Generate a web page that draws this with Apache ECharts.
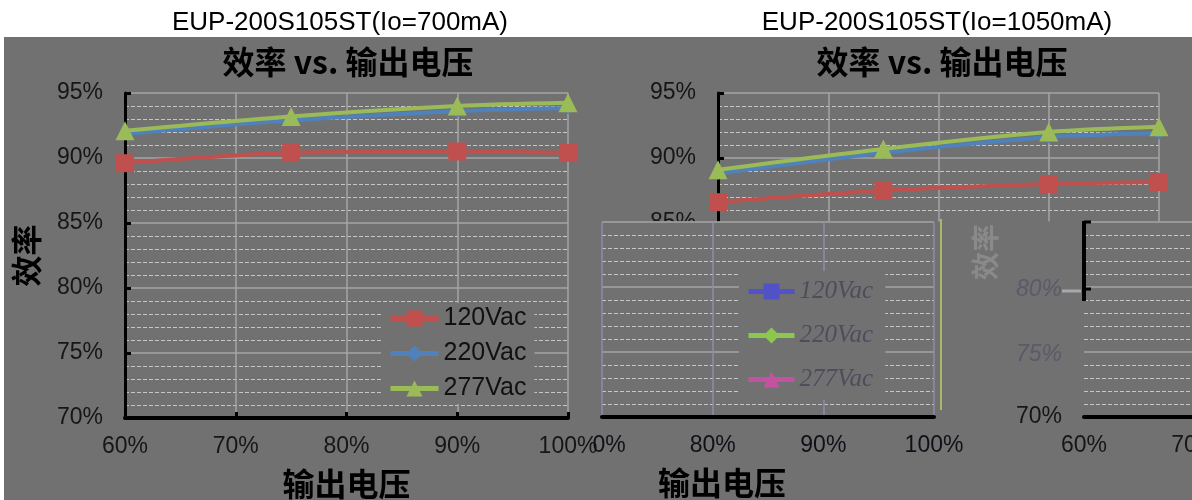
<!DOCTYPE html>
<html><head><meta charset="utf-8">
<script src="https://cdn.jsdelivr.net/npm/echarts@6/dist/echarts.min.js"></script>
<style>html,body{margin:0;padding:0;background:#fff}#c{width:1192px;height:500px}</style>
</head><body><div id="c"></div>
<script>
// ---- data ----
const xPoints = [60, 75, 90, 100];           // output voltage (%)
const seriesNames = ['120Vac', '220Vac', '277Vac'];
const left120 = [89.6, 90.4, 90.5, 90.4];    // Io=700mA
const left220 = [91.85, 92.9, 93.6, 93.85];
const left277 = [92.1, 93.2, 94.0, 94.25];
const right120 = [86.6, 87.5, 88.0, 88.15];  // Io=1050mA
const right220 = [88.8, 90.4, 91.6, 91.9];
const right277 = [89.1, 90.7, 92.0, 92.4];
const fragNames = ['120Vac ', '220Vac ', '277Vac ']; // overlapped fragment legend
const titles = ['EUP-200S105ST(Io=700mA)', 'EUP-200S105ST(Io=1050mA)'];
const subTitle = '效率 vs. 输出电压';
const xName = '输出电压';
const yName = '效率';

// ---- styles ----
const BG = '#717171';
const FS = 23;
const LAB = { color: '#161616', fontSize: FS, fontFamily: 'Liberation Sans, Arial' };
const CJK = 'Noto Sans CJK SC';
const solid = { show: true, lineStyle: { color: '#a5a5a5', width: 1.5 } };
const dashed = { show: true, lineStyle: { color: '#c6c6c6', width: 1, type: [4, 2] } };
const blackLine = w => ({ show: true, onZero: false, lineStyle: { color: '#000', width: w } });
const inTick = { show: true, inside: true, length: 6, lineStyle: { color: '#000', width: 3 } };
const pct = v => v + '%';
const pair = ys => ys.map((y, i) => [xPoints[i], y]);

const colors = ['#c0504d', '#4f81bd', '#9bbb59'];
const symbols = ['rect', 'diamond', 'triangle'];
const sizes = [18, 13, 19];
const fragColors = ['#5252c8', '#8cc850', '#c452a2'];

function mk(name, data, i, gi) {
  return {
    type: 'line', name, data: pair(data), xAxisIndex: gi, yAxisIndex: gi,
    smooth: 0.3, symbol: symbols[i], symbolSize: sizes[i],
    lineStyle: { color: colors[i], width: 4 }, itemStyle: { color: colors[i] }
  };
}

const series = [
  mk(seriesNames[0], left120, 0, 0), mk(seriesNames[1], left220, 1, 0), mk(seriesNames[2], left277, 2, 0),
  mk(seriesNames[0], right120, 0, 1), mk(seriesNames[1], right220, 1, 1), mk(seriesNames[2], right277, 2, 1)
];
fragNames.forEach((n, i) => series.push({
  type: 'line', name: n, data: [], xAxisIndex: 2, yAxisIndex: 2, symbol: symbols[i], symbolSize: sizes[i],
  lineStyle: { color: fragColors[i], width: 4 }, itemStyle: { color: fragColors[i] }, z: 31
}));

const titleFont = { fontSize: 26, fontWeight: 'normal', color: '#000', fontFamily: 'Liberation Sans, Arial' };
const cjkBold = sz => ({ fontSize: sz, fontWeight: 'bold', color: '#000', fontFamily: CJK });

const chart = echarts.init(document.getElementById('c'), null, { renderer: 'canvas' });
chart.setOption({
  animation: false,
  backgroundColor: BG,
  title: [
    { text: titles[0], left: 335, top: 5, textAlign: 'center', z: 10, textStyle: titleFont },
    { text: titles[1], left: 932, top: 5, textAlign: 'center', z: 10, textStyle: titleFont },
    { text: subTitle, left: 343, top: 41, textAlign: 'center', z: 10, textStyle: cjkBold(32) },
    { text: subTitle, left: 937, top: 41, textAlign: 'center', z: 10, textStyle: cjkBold(32) },
    { text: xName, left: 717, top: 462, textAlign: 'center', z: 40, textStyle: cjkBold(32) }
  ],
  grid: [
    { left: 125, top: 93, width: 443, height: 325, outerBoundsMode: 'none' },
    { left: 718, top: 93, width: 441, height: 130, outerBoundsMode: 'none' },
    { left: 602, top: 222, width: 332, height: 195, outerBoundsMode: 'none' },
    { left: 1084, top: 222, width: 441, height: 195, outerBoundsMode: 'none' }
  ],
  xAxis: [
    { type: 'value', gridIndex: 0, min: 60, max: 100, interval: 10, axisLine: blackLine(4), axisTick: inTick,
      axisLabel: Object.assign({ formatter: pct, margin: 17 }, LAB), splitLine: solid,
      name: xName, nameLocation: 'middle', nameGap: 50, nameTextStyle: cjkBold(32) },
    { type: 'value', gridIndex: 1, min: 60, max: 100, interval: 10, axisLine: { show: false }, axisTick: { show: false },
      axisLabel: { show: false }, splitLine: solid },
    { type: 'value', gridIndex: 2, min: 70, max: 100, interval: 10, axisLine: blackLine(4), axisTick: { show: false }, z: 30,
      axisLabel: { margin: 17, formatter: v => v === 70 ? '{s|0%}' : '{n|' + v + '%}',
        rich: { n: Object.assign({}, LAB, { color: '#101018' }), s: Object.assign({ padding: [0, 0, 0, 14] }, LAB, { color: '#101018' }) } },
      splitLine: { show: true, lineStyle: { color: '#8d8daa', width: 1.5 } } },
    { type: 'value', gridIndex: 3, min: 60, max: 100, interval: 10, axisLine: blackLine(4), axisTick: { show: false }, z: 30,
      axisLabel: Object.assign({ formatter: pct, margin: 17 }, LAB), splitLine: { show: false } }
  ],
  yAxis: [
    { type: 'value', gridIndex: 0, min: 70, max: 95, interval: 5, axisLine: blackLine(3), axisTick: inTick,
      axisLabel: Object.assign({ formatter: pct, margin: 22 }, LAB), splitLine: solid,
      minorTick: { show: false, splitNumber: 5 }, minorSplitLine: dashed,
      name: yName, nameLocation: 'middle', nameGap: 83, nameTextStyle: cjkBold(31) },
    { type: 'value', gridIndex: 1, min: 85, max: 95, interval: 5, axisLine: blackLine(3), axisTick: inTick,
      axisLabel: Object.assign({ formatter: pct, margin: 22 }, LAB), splitLine: solid,
      minorTick: { show: false, splitNumber: 5 }, minorSplitLine: dashed },
    { type: 'value', gridIndex: 2, min: 70, max: 85, interval: 5, axisLine: { show: false }, axisTick: { show: false },
      axisLabel: { show: false }, splitLine: solid, z: 30,
      minorTick: { show: false, splitNumber: 5 }, minorSplitLine: dashed },
    { type: 'value', gridIndex: 3, min: 70, max: 85, interval: 5, axisLine: { show: false }, axisTick: { show: false }, z: 30,
      axisLabel: { margin: 22, formatter: v => v === 85 ? '' : (v === 70 ? '{n|70%}' : '{f|' + v + '%}'),
        rich: { n: LAB, f: { color: '#5a5a6a', fontSize: FS, fontStyle: 'italic', fontFamily: 'Liberation Sans, Arial', padding: [6, 0, 0, 0] } } },
      splitLine: solid, minorTick: { show: false, splitNumber: 5 }, minorSplitLine: dashed }
  ],
  legend: [
    { orient: 'vertical', left: 381, top: 303, itemWidth: 48, itemHeight: 20, itemGap: 10,
      backgroundColor: BG, padding: [3, 8, 3, 7], data: seriesNames, selectedMode: false,
      lineStyle: { width: 5 },
      textStyle: { fontSize: 25, color: '#111', fontFamily: 'Liberation Sans, Arial' } },
    { orient: 'vertical', left: 739, top: 271, itemWidth: 46, itemHeight: 20, itemGap: 19, z: 40,
      backgroundColor: BG, padding: [8, 6, 8, 7], data: fragNames, selectedMode: false,
      lineStyle: { width: 5 },
      textStyle: { fontSize: 25, fontStyle: 'italic', color: '#4d4d5e', fontFamily: 'Liberation Serif, serif' } }
  ],
  graphic: [
    { type: 'rect', z: 1, shape: { x: 0, y: 0, width: 1192, height: 37 }, style: { fill: '#fff' } },
    { type: 'rect', z: 1, shape: { x: 0, y: 0, width: 4, height: 500 }, style: { fill: '#fff' } },
    { type: 'rect', z: 20, shape: { x: 598, y: 221.5, width: 594, height: 279 }, style: { fill: BG } },
    { type: 'line', z: 25, shape: { x1: 941, y1: 219, x2: 941, y2: 410 }, style: { stroke: '#a9b86a', lineWidth: 2 } },
    { type: 'line', z: 32, shape: { x1: 1084, y1: 221, x2: 1084, y2: 301 }, style: { stroke: '#000', lineWidth: 4 } },
    { type: 'line', z: 32, shape: { x1: 1084, y1: 222, x2: 1091, y2: 222 }, style: { stroke: '#000', lineWidth: 3 } },
    { type: 'line', z: 32, shape: { x1: 1084, y1: 289, x2: 1091, y2: 289 }, style: { stroke: '#000', lineWidth: 3 } },
    { type: 'line', z: 32, shape: { x1: 1062, y1: 291, x2: 1081, y2: 291 }, style: { stroke: '#a8a8a8', lineWidth: 3 } },
    { type: 'text', z: 32, x: 985, y: 252, rotation: Math.PI / 2,
      style: { text: yName, fill: '#8a8a8a', font: 'bold 28px "Noto Sans CJK SC"', align: 'center', verticalAlign: 'middle' } }
  ],
  series
});
</script></body></html>
